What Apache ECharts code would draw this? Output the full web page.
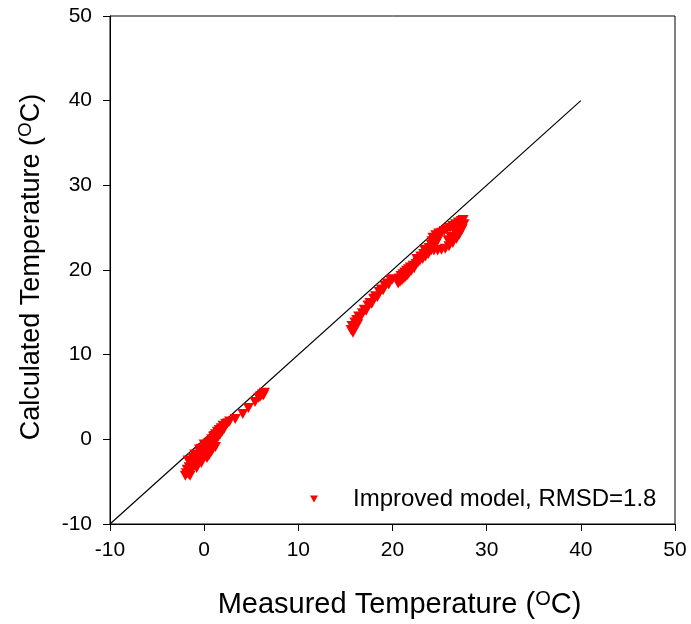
<!DOCTYPE html>
<html>
<head>
<meta charset="utf-8">
<script src="https://cdn.jsdelivr.net/npm/echarts@6/dist/echarts.min.js"></script>
<style>
html,body{margin:0;padding:0;background:#fff;}
#chart{width:691px;height:624px;}
</style>
</head>
<body>
<div id="chart"></div>
<script>
// Tick labels
var xTicks = [-10, 0, 10, 20, 30, 40, 50];
var yTicks = [-10, 0, 10, 20, 30, 40, 50];

// 1:1 reference line endpoints (measured, calculated)
var refLine = [[-10, -10], [40, 40]];

// Low-temperature cluster [measured, calculated]
var lowCluster = [
  [-2.0,-4.3],[-1.9,-4.0],[-1.8,-3.6],[-1.7,-4.1],[-1.6,-3.3],[-1.6,-2.6],[-1.5,-3.8],[-1.4,-2.9],
  [-1.3,-3.5],[-1.2,-2.6],[-1.2,-2.2],[-1.1,-3.2],[-1.0,-2.4],[-0.9,-3.0],[-0.8,-2.1],[-0.7,-2.7],
  [-0.6,-1.9],[-0.5,-2.5],[-0.4,-1.6],[-0.3,-2.2],[-0.2,-1.3],[-0.1,-2.0],[0.0,-1.1],[0.1,-1.7],
  [0.2,-0.8],[0.3,-1.5],[0.4,-0.5],[0.5,-1.2],[0.6,-0.3],[0.7,-0.9],[0.8,0.0],[0.9,-0.6],
  [1.0,0.3],[1.1,-0.3],[1.2,0.6],[1.3,0.0],[1.4,0.9],[1.5,0.3],[1.6,1.1],[1.7,0.6],
  [1.8,1.3],[1.9,0.9],[2.0,1.6],[2.1,1.2],[2.3,1.8],[2.5,1.9],[2.7,2.1],[3.3,2.4],
  [4.1,3.0],[4.7,3.7],[5.4,4.4],[5.8,4.9],[6.0,5.1],[6.2,5.3],[6.4,5.5],[6.3,5.2],
  [-1.0,-1.8],[-0.5,-1.2],[0.0,-0.6],[0.3,-2.2],[-0.3,-2.8],[0.8,-1.4],[1.2,-0.9],[-1.5,-4.3],
  [-1.7,-2.5],[-0.3,-1.1],[1.1,0.4],[-0.8,-3.4],[0.5,-1.9]
];

// Middle cluster
var midCluster = [
  [15.6,12.9],[15.7,13.4],[15.9,13.2],[16.0,13.8],[16.2,14.1],[16.4,14.5],[16.6,14.4],[16.8,14.9],
  [17.0,15.3],[17.2,15.2],[17.4,15.8],[17.6,16.1],[17.8,16.0],[18.0,16.6],[18.2,16.9],[18.4,16.8],
  [18.6,17.4],[18.8,17.7],[19.0,17.6],[19.2,18.1],[19.4,18.4],[19.6,18.3],[19.8,18.8],[20.0,18.9],
  [15.8,12.6],[16.3,13.6]
];

// Upper cluster (with loop)
var highCluster = [
  [20.6,18.4],[20.7,19.0],[20.8,18.6],[20.9,19.3],[21.0,18.8],[21.1,19.5],[21.2,19.0],[21.3,19.7],
  [21.4,19.2],[21.5,19.9],[21.6,19.4],[21.7,20.1],[21.8,19.7],[21.9,20.3],[22.0,19.9],[22.2,20.5],
  [22.3,20.2],[22.5,20.7],[22.7,20.9],[22.9,21.1],[23.0,21.6],[23.2,21.3],[23.3,21.9],[23.5,21.6],
  [23.6,22.2],[23.8,21.9],[23.9,22.6],[24.1,22.3],[24.1,23.0],[24.2,23.4],
  [24.3,23.8],[24.6,24.1],[24.9,24.3],[25.2,24.4],[25.5,24.6],[25.8,24.8],[26.1,25.0],[26.4,25.2],
  [26.7,25.4],[27.0,25.6],[27.3,25.8],[27.5,25.9],
  [24.4,22.3],[24.8,22.3],[25.2,22.4],[25.6,22.5],[26.0,22.8],[26.4,23.2],[26.8,23.7],[27.1,24.2],
  [27.4,24.8],[27.6,25.4],
  [24.6,23.1],[24.8,23.5],[26.2,23.9],[26.6,24.5],[27.1,25.0],[25.9,23.5],[22.6,21.3],[23.4,22.4]
];

var legendLabel = 'Improved model, RMSD=1.8';
var downTri = 'path://M0,0 L10,0 L5,9 Z';

var chart = echarts.init(document.getElementById('chart'), null, {renderer: 'canvas'});
var font = 'Arial, "Liberation Sans", sans-serif';
var allPoints = lowCluster.concat(midCluster, highCluster);

chart.setOption({
  animation: false,
  backgroundColor: '#fff',
  grid: {left: 110, right: 16, top: 16, bottom: 99, show: true, borderColor: '#000', borderWidth: 1},
  legend: {
    left: 305, top: 482,
    itemWidth: 8, itemHeight: 8,
    data: [{name: legendLabel, icon: downTri}],
    textStyle: {fontFamily: font, fontSize: 24, color: '#000', padding: [0, 0, 0, 30]}
  },
  xAxis: {
    type: 'value', min: xTicks[0], max: xTicks[xTicks.length - 1], interval: 10,
    splitLine: {show: false},
    axisLine: {show: true, onZero: false, lineStyle: {color: '#000', width: 1}},
    axisTick: {show: true, inside: false, length: 7, lineStyle: {color: '#000'}},
    axisLabel: {fontFamily: font, fontSize: 21, color: '#000', margin: 16},
    name: '{a|Measured Temperature (}{s|O}{a|C)}',
    nameLocation: 'middle', nameGap: 65,
    nameTextStyle: {
      padding: [0, 0, 0, 14],
      rich: {
        a: {fontFamily: font, fontSize: 29, color: '#000', verticalAlign: 'bottom'},
        s: {fontFamily: font, fontSize: 20, color: '#000', verticalAlign: 'bottom', padding: [0, 0, 10, 0]}
      }
    }
  },
  yAxis: {
    type: 'value', min: yTicks[0], max: yTicks[yTicks.length - 1], interval: 10,
    splitLine: {show: false},
    axisLine: {show: true, onZero: false, lineStyle: {color: '#000', width: 1}},
    axisTick: {show: true, inside: false, length: 7, lineStyle: {color: '#000'}},
    axisLabel: {fontFamily: font, fontSize: 21, color: '#000', margin: 18},
    name: '{a|Calculated Temperature (}{s|O}{a|C)}',
    nameLocation: 'middle', nameGap: 65, nameRotate: 90,
    nameTextStyle: {
      padding: [0, 0, 0, 6],
      rich: {
        a: {fontFamily: font, fontSize: 27, color: '#000', verticalAlign: 'bottom'},
        s: {fontFamily: font, fontSize: 19, color: '#000', verticalAlign: 'bottom', padding: [0, 0, 10, 0]}
      }
    }
  },
  series: [
    {
      type: 'line', data: refLine, symbol: 'none', silent: true,
      lineStyle: {color: '#000', width: 1.2}, z: 1, legendHoverLink: false
    },
    {
      name: legendLabel, type: 'scatter', data: allPoints,
      symbol: downTri, symbolSize: [11, 10],
      itemStyle: {color: '#ff0000', opacity: 1}, z: 2
    }
  ]
});
</script>
</body>
</html>
